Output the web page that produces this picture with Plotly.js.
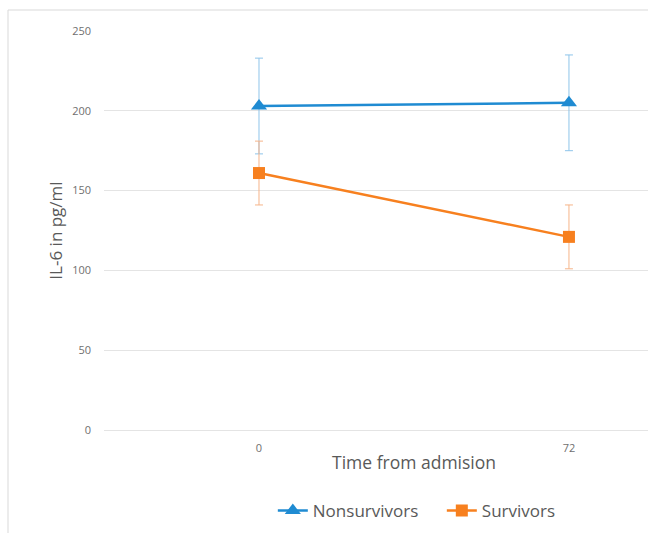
<!DOCTYPE html>
<html><head><meta charset="utf-8">
<script src="https://cdn.plot.ly/plotly-3.0.1.min.js"></script>
<style>html,body{margin:0;padding:0;background:#fff;}#chart{width:648px;height:533px;}</style>
</head><body><div id="chart"></div>
<script>
const categories = ["0", "72"];
const nonsurvivors = [203, 205];
const nonsurvivorsErr = [30, 30];
const survivors = [161, 121];
const survivorsErr = [20, 20];
const yTicks = [0, 50, 100, 150, 200, 250];

const font = "'Open Sans', Lato, sans-serif";
const gray = "#595959";
const tickGray = "#6f6f6f";

const traces = [
  {
    x: categories, y: nonsurvivors, name: "Nonsurvivors", type: "scatter", mode: "lines+markers",
    line: {color: "#1f8bd2", width: 2.5},
    marker: {symbol: "triangle-up", size: 14, color: "#1f8bd2"},
    error_y: {type: "data", array: nonsurvivorsErr, visible: true, color: "#8ec4ea", thickness: 1, width: 4}
  },
  {
    x: categories, y: survivors, name: "Survivors", type: "scatter", mode: "lines+markers",
    line: {color: "#f7801f", width: 2.5},
    marker: {symbol: "square", size: 12, color: "#f7801f"},
    error_y: {type: "data", array: survivorsErr, visible: true, color: "#f6b489", thickness: 1, width: 4}
  }
];

const layout = {
  width: 648, height: 533,
  margin: {l: 104, r: 0, t: 31, b: 103},
  paper_bgcolor: "#fff", plot_bgcolor: "#fff",
  font: {family: font, color: gray},
  showlegend: true,
  legend: {orientation: "h", x: 0.621, xanchor: "center", y: -0.203, yanchor: "middle",
           font: {size: 17, color: gray, family: font}, itemwidth: 30, entrywidth: 124, tracegroupgap: 0},
  xaxis: {
    type: "category", range: [-0.5, 1.255], showgrid: false, zeroline: false, showline: false,
    tickfont: {size: 11, color: tickGray, family: font}, ticks: "", ticklabelstandoff: 10
  },
  yaxis: {
    range: [0, 250], tickvals: yTicks, showgrid: true, gridcolor: "#e4e4e4", gridwidth: 1,
    zeroline: true, zerolinecolor: "#e4e4e4", zerolinewidth: 1, showline: false, ticks: "",
    tickfont: {size: 11, color: tickGray, family: font}, ticklabelstandoff: 12,
    title: {text: "IL-6 in pg/ml", font: {size: 17, color: gray, family: font}, standoff: 5}
  },
  annotations: [
    {text: "Time from admision", xref: "x", yref: "paper", x: 0.5, y: (430 - 462) / 399,
     showarrow: false, xanchor: "center", yanchor: "middle", font: {size: 17.5, color: gray, family: font}}
  ],
  shapes: [
    {type: "rect", xref: "paper", yref: "paper", x0: (8 - 104) / 544, x1: 1.2, y0: -0.5, y1: (430 - 10) / 399,
     line: {color: "#d9d9d9", width: 1}, fillcolor: "rgba(0,0,0,0)", layer: "below"}
  ]
};

Plotly.newPlot("chart", traces, layout, {displayModeBar: false, staticPlot: true});
</script></body></html>
